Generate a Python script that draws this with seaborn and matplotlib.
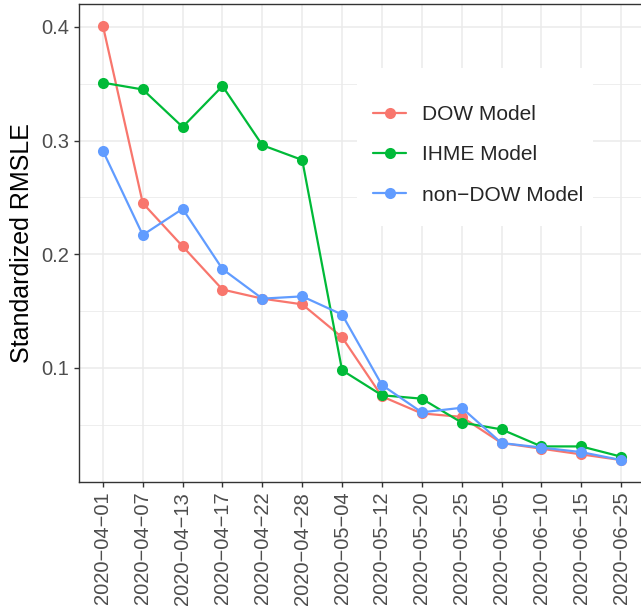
import matplotlib
matplotlib.use("Agg")
import matplotlib.pyplot as plt
import seaborn as sns
import pandas as pd
from matplotlib.patches import Rectangle
from matplotlib.lines import Line2D
from matplotlib.ticker import MultipleLocator

dates = ["2020−04−01", "2020−04−07", "2020−04−13", "2020−04−17", "2020−04−22",
         "2020−04−28", "2020−05−04", "2020−05−12", "2020−05−20", "2020−05−25",
         "2020−06−05", "2020−06−10", "2020−06−15", "2020−06−25"]
dow = [0.401, 0.245, 0.207, 0.169, 0.161, 0.156, 0.127, 0.075, 0.060, 0.057,
       0.034, 0.029, 0.024, 0.019]
ihme = [0.351, 0.345, 0.312, 0.348, 0.296, 0.283, 0.098, 0.076, 0.073, 0.052,
        0.046, 0.031, 0.031, 0.022]
nondow = [0.291, 0.217, 0.240, 0.187, 0.161, 0.163, 0.147, 0.085, 0.061, 0.065,
          0.034, 0.030, 0.026, 0.019]
models = ["DOW Model", "IHME Model", "non−DOW Model"]
colors = ["#F8766D", "#00BA38", "#619CFF"]

df = pd.concat([
    pd.DataFrame({"date": dates, "value": v, "model": m})
    for v, m in zip([dow, ihme, nondow], models)
], ignore_index=True)

sns.set_theme(style="white")
plt.rcParams["font.family"] = ["Liberation Sans", "DejaVu Sans"]

W, H = 641, 616
fig = plt.figure(figsize=(W / 100, H / 100), dpi=100)
left, right, top, bottom = 79, 645, 4, 482
ax = fig.add_axes([left / W, 1 - bottom / H, (right - left) / W, (bottom - top) / H])

sns.lineplot(data=df, x="date", y="value", hue="model", palette=colors,
             marker="o", markersize=8, markeredgewidth=0, linewidth=1.6,
             sort=False, ax=ax, legend=False, zorder=3)

ax.set_xlim(-0.6, len(dates) - 1 + 0.6)
ax.set_ylim(-0.0003, 0.4202)
ax.yaxis.set_major_locator(MultipleLocator(0.1))
ax.yaxis.set_minor_locator(MultipleLocator(0.05))
ax.set_yticks([0.1, 0.2, 0.3, 0.4])
ax.set_yticklabels(["0.1", "0.2", "0.3", "0.4"])
ax.set_xticks(range(len(dates)))
ax.set_xticklabels(dates, rotation=90)

ax.grid(which="major", color="#EBEBEB", linewidth=1.1)
ax.grid(which="minor", axis="y", color="#EBEBEB", linewidth=0.6)
ax.set_axisbelow(True)

for s in ax.spines.values():
    s.set_color("#333333")
    s.set_linewidth(1.0)

ax.tick_params(axis="both", which="major", length=3.6, width=1.0, color="#333333",
               labelsize=14.5, labelcolor="#4D4D4D", pad=3.5, direction="out",
               left=True, bottom=True)
ax.tick_params(axis="y", which="minor", length=0)
ax.set_xlabel("")
ax.set_ylabel("Standardized RMSLE", fontsize=18, color="black", labelpad=5)

# legend background
fig.patches.append(Rectangle((357 / W, 1 - 226 / H), (593 - 357) / W, (226 - 68) / H,
                             transform=fig.transFigure, facecolor="white",
                             edgecolor="none", zorder=5))
handles = [Line2D([0], [0], color=c, linewidth=1.6, marker="o", markersize=8,
                  markeredgewidth=0) for c in colors]
leg = fig.legend(handles, models, loc="center left",
                 bbox_to_anchor=(373 / W, 1 - 155 / H), frameon=False,
                 fontsize=15, handlelength=1.6, handletextpad=0.75,
                 labelspacing=1.02, borderpad=0, borderaxespad=0)
leg.set_zorder(6)

fig.savefig("out.png", dpi=100)
